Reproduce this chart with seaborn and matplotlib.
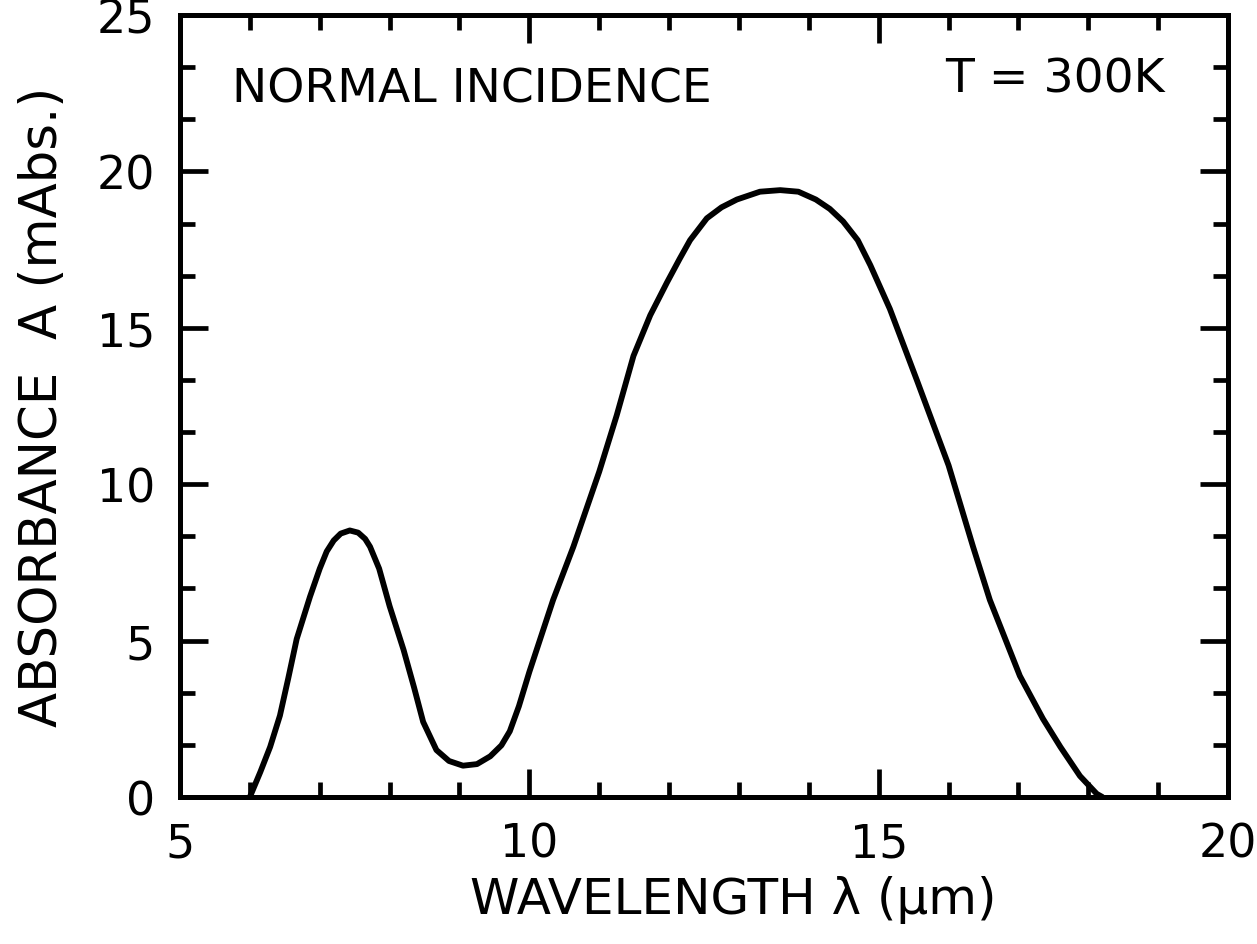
import matplotlib
matplotlib.use("Agg")
import matplotlib.pyplot as plt
from matplotlib.ticker import AutoMinorLocator
import seaborn as sns
import pandas as pd

# Data
wavelength_um = [6.0, 6.15, 6.29, 6.43, 6.55, 6.67, 6.86, 7.0, 7.1, 7.2, 7.3, 7.43, 7.55,
                 7.65, 7.72, 7.85, 8.0, 8.2, 8.35, 8.48, 8.67, 8.85, 9.05, 9.25, 9.44,
                 9.6, 9.72, 9.85, 10.0, 10.34, 10.63, 11.0, 11.25, 11.49, 11.73, 11.97,
                 12.15, 12.3, 12.54, 12.75, 12.97, 13.3, 13.59, 13.85, 14.1, 14.3,
                 14.49, 14.7, 14.88, 15.16, 15.55, 16.0, 16.35, 16.59, 17.02, 17.35,
                 17.6, 17.88, 18.12, 18.2]
absorbance_mabs = [0.0, 0.8, 1.6, 2.6, 3.8, 5.05, 6.4, 7.3, 7.85, 8.2, 8.42, 8.52, 8.45,
                   8.25, 8.0, 7.3, 6.1, 4.7, 3.5, 2.4, 1.5, 1.15, 1.0, 1.05, 1.3,
                   1.65, 2.1, 2.9, 4.0, 6.3, 8.0, 10.4, 12.2, 14.1, 15.4, 16.45,
                   17.2, 17.8, 18.5, 18.85, 19.1, 19.35, 19.4, 19.35, 19.1, 18.8,
                   18.4, 17.8, 17.0, 15.6, 13.3, 10.6, 8.0, 6.3, 3.87, 2.5,
                   1.6, 0.67, 0.1, 0.0]

x_ticks = [5, 10, 15, 20]
y_ticks = [0, 5, 10, 15, 20, 25]
x_label = "WAVELENGTH λ (μm)"
y_label = "ABSORBANCE  A (mAbs.)"
note_left = "NORMAL INCIDENCE"
note_right = "T = 300K"

sns.set_theme(style="ticks")
plt.rcParams['font.family'] = ['DejaVu Sans']
plt.rcParams['text.color'] = 'black'
plt.rcParams['axes.labelcolor'] = 'black'
plt.rcParams['xtick.color'] = 'black'
plt.rcParams['ytick.color'] = 'black'

df = pd.DataFrame({"wl": wavelength_um, "A": absorbance_mabs})

fig = plt.figure(figsize=(12.57, 9.45), dpi=100)
ax = fig.add_axes([0.1432, 0.1556, 0.8338, 0.8275])
sns.lineplot(data=df, x="wl", y="A", ax=ax, color="black", linewidth=4.2)

ax.set_xlim(5, 20)
ax.set_ylim(0, 25)
ax.set_xticks(x_ticks)
ax.set_yticks(y_ticks)
ax.xaxis.set_minor_locator(AutoMinorLocator(5))
ax.yaxis.set_minor_locator(AutoMinorLocator(3))

for s in ax.spines.values():
    s.set_linewidth(3.6)
    s.set_color("black")

ax.tick_params(which="both", direction="in", top=True, right=True,
               color="black", width=3.4, labelcolor="black")
ax.tick_params(which="major", length=20, labelsize=33, pad=18)
ax.tick_params(which="minor", length=11)

ax.set_xlabel(x_label, fontsize=36, color="black")
ax.set_ylabel(y_label, fontsize=37, color="black")
ax.xaxis.set_label_coords(0.528, -0.1)
ax.yaxis.set_label_coords(-0.107, 0.5)

ax.text(0.0496, 0.889, note_left, transform=ax.transAxes, fontsize=34,
        ha="left", va="baseline", color="black")
ax.text(0.940, 0.9015, note_right, transform=ax.transAxes, fontsize=34,
        ha="right", va="baseline", color="black")

fig.savefig("out.png", dpi=100)
